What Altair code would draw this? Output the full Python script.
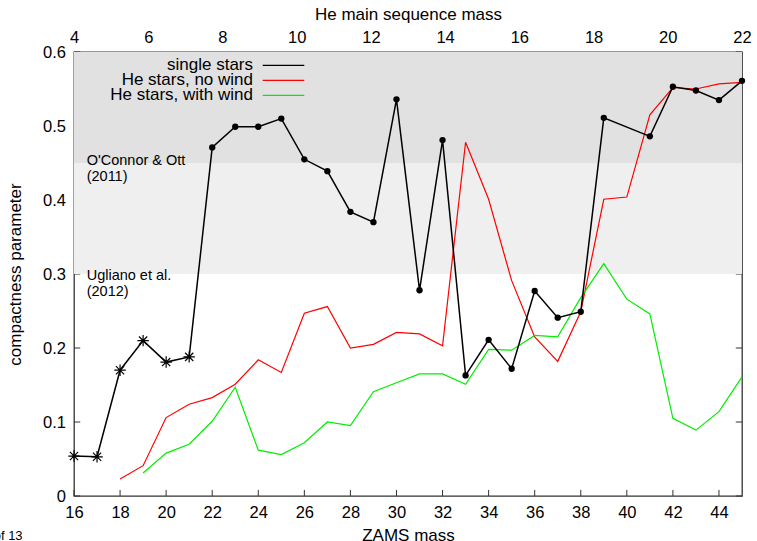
import altair as alt
import pandas as pd

# ---------------- data ----------------
# single stars (asterisk markers for the first six models, dots afterwards)
zams_single_star = [16, 17, 18, 19, 20, 21]
cp_single_star = [0.054, 0.053, 0.170, 0.210, 0.181, 0.188]
zams_single_dot = [22, 23, 24, 25, 26, 27, 28, 29, 30, 31, 32, 33, 34, 35, 36, 37, 38, 39,
                   41, 42, 43, 44, 45]
cp_single_dot = [0.471, 0.499, 0.499, 0.510, 0.455, 0.439, 0.384, 0.370, 0.536, 0.278,
                 0.481, 0.163, 0.211, 0.172, 0.277, 0.241, 0.249, 0.511,
                 0.486, 0.553, 0.548, 0.535, 0.561]

# He stars, no wind
zams_he_nowind = list(range(18, 46))
cp_he_nowind = [0.023, 0.041, 0.106, 0.124, 0.133, 0.151, 0.184, 0.167, 0.247, 0.256,
                0.200, 0.205, 0.221, 0.219, 0.203, 0.478, 0.401, 0.291, 0.215, 0.182,
                0.249, 0.401, 0.404, 0.515, 0.552, 0.550, 0.557, 0.559]

# He stars, with wind
zams_he_wind = list(range(19, 46))
cp_he_wind = [0.031, 0.058, 0.070, 0.101, 0.147, 0.062, 0.056, 0.072, 0.100, 0.095,
              0.141, 0.153, 0.165, 0.165, 0.151, 0.198, 0.197, 0.217, 0.215, 0.268,
              0.314, 0.266, 0.246, 0.105, 0.089, 0.114, 0.161]

# axes
zams_ticks = list(range(16, 46, 2))
cp_ticks = [0.0, 0.1, 0.2, 0.3, 0.4, 0.5, 0.6]
he_ticks = list(range(4, 23, 2))

# shaded regions
band_lo = [0.45, 0.30]
band_hi = [0.60, 0.45]
band_colors = ["#e1e1e1", "#efefef"]
band_labels = ["O'Connor & Ott\n(2011)", "Ugliano et al.\n(2012)"]

legend_labels = ["single stars", "He stars, no wind", "He stars, with wind"]
legend_colors = ["#000000", "#ff0000", "#00ee00"]

# ---------------- chart ----------------
FONT = "Liberation Sans"
XMIN, XMAX = 16, 45
YMIN, YMAX = 0.0, 0.6

xs = alt.Scale(domain=[XMIN, XMAX], nice=False, zero=False)
ys = alt.Scale(domain=[YMIN, YMAX], nice=False, zero=False)

xaxis = alt.Axis(values=zams_ticks, title="ZAMS mass", grid=False, domain=False,
                 ticks=False, tickSize=0, labelFontSize=16.5, labelPadding=21.3,
                 labelBaseline="alphabetic", labelColor="#000", titleFontSize=17,
                 titleFontWeight="normal", titleColor="#000", titleX=334, titleY=44.5,
                 titleBaseline="alphabetic", titleAlign="center", labelFlush=False)
yaxis = alt.Axis(values=cp_ticks, format=".1~f", title="compactness parameter",
                 grid=False, domain=False, ticks=False, tickSize=0, labelFontSize=16.5,
                 labelPadding=8.5, labelColor="#000", titleFontSize=17,
                 titleFontWeight="normal", titleColor="#000", titleX=-54, titleY=222,
                 titleAngle=270, titleBaseline="alphabetic", titleAlign="center",
                 labelFlush=False)

X = alt.X("zams:Q", scale=xs, axis=xaxis)
Y = alt.Y("cp:Q", scale=ys, axis=yaxis)

# inward ticks (drawn first so the shaded bands cover them)
df_bt = pd.DataFrame({"zams": zams_ticks, "cp": [YMIN] * len(zams_ticks),
                      "cp2": [YMIN + 0.0082] * len(zams_ticks)})
bottom_ticks = alt.Chart(df_bt).mark_rule(color="#333", strokeWidth=1).encode(
    x=X, y=Y, y2="cp2:Q")
df_lt = pd.DataFrame({"zams": [XMIN] * len(cp_ticks), "zams2": [XMIN + 0.27] * len(cp_ticks),
                      "cp": cp_ticks})
left_ticks = alt.Chart(df_lt).mark_rule(color="#333", strokeWidth=1).encode(
    x=X, x2="zams2:Q", y=Y)
df_rt = pd.DataFrame({"zams": [XMAX - 0.27] * len(cp_ticks), "zams2": [XMAX] * len(cp_ticks),
                      "cp": cp_ticks})
right_ticks = alt.Chart(df_rt).mark_rule(color="#333", strokeWidth=1).encode(
    x=X, x2="zams2:Q", y=Y)

df_band = pd.DataFrame({"zams": [XMIN, XMIN], "zams2": [XMAX, XMAX],
                        "cp": band_lo, "cp2": band_hi, "col": band_colors})
bands = alt.Chart(df_band).mark_rect().encode(
    x=X, x2="zams2:Q", y=Y, y2="cp2:Q",
    color=alt.Color("col:N", scale=None))

df_lab = pd.DataFrame({"zams": [16.55, 16.55], "cp": [0.447, 0.2915], "label": band_labels})
band_text = alt.Chart(df_lab).mark_text(
    align="left", baseline="alphabetic", font=FONT, fontSize=14.5, lineBreak="\n",
    lineHeight=16, color="#000").encode(x=X, y=Y, text="label:N")

df_red = pd.DataFrame({"zams": zams_he_nowind, "cp": cp_he_nowind})
red = alt.Chart(df_red).mark_line(color="#ff0000", strokeWidth=1.2).encode(x=X, y=Y)

df_green = pd.DataFrame({"zams": zams_he_wind, "cp": cp_he_wind})
green = alt.Chart(df_green).mark_line(color="#00ee00", strokeWidth=1.2).encode(x=X, y=Y)

df_single = pd.DataFrame({"zams": zams_single_star + zams_single_dot,
                          "cp": cp_single_star + cp_single_dot})
black = alt.Chart(df_single).mark_line(color="#000", strokeWidth=1.5).encode(x=X, y=Y)

df_dot = pd.DataFrame({"zams": zams_single_dot, "cp": cp_single_dot})
dots = alt.Chart(df_dot).mark_point(filled=True, color="#000", size=40, opacity=1,
                                    shape="circle").encode(x=X, y=Y)

ASTERISK = "M-1,0L1,0M0,-1L0,1M-0.72,-0.72L0.72,0.72M-0.72,0.72L0.72,-0.72"
df_star = pd.DataFrame({"zams": zams_single_star, "cp": cp_single_star})
stars = alt.Chart(df_star).mark_point(filled=False, color="#000", size=130, opacity=1,
                                      strokeWidth=1.2, shape=ASTERISK).encode(x=X, y=Y)

# legend (labels left of the line samples, as in the original)
legend_layers = []
for i, (lab, col) in enumerate(zip(legend_labels, legend_colors)):
    ty = 18.3 + 15 * i
    ly = 13.3 + 15 * i
    legend_layers.append(
        alt.Chart(pd.DataFrame({"a": [0]})).mark_text(
            align="right", baseline="alphabetic", font=FONT, fontSize=17, color="#000"
        ).encode(x=alt.value(179), y=alt.value(ty), text=alt.value(lab)))
    legend_layers.append(
        alt.Chart(pd.DataFrame({"a": [0]})).mark_rule(color=col, strokeWidth=1.3).encode(
            x=alt.value(188.7), x2=alt.value(230.3), y=alt.value(ly)))

footer = alt.Chart(pd.DataFrame({"a": [0]})).mark_text(
    align="right", baseline="alphabetic", font=FONT, fontSize=13, color="#000"
).encode(x=alt.value(-51.4), y=alt.value(487.5), text=alt.value("of 13"))

main = alt.layer(bottom_ticks, left_ticks, right_ticks, bands, band_text,
                 red, green, black, dots, stars, *legend_layers, footer)

top = alt.Chart(pd.DataFrame({"he": he_ticks})).mark_rule(opacity=0).encode(
    x=alt.X("he:Q", scale=alt.Scale(domain=[4, 22], nice=False, zero=False),
            axis=alt.Axis(orient="top", values=he_ticks, title="He main sequence mass",
                          grid=False, domain=False, ticks=False, tickSize=0,
                          labelFontSize=16.5, labelPadding=9.3, labelBaseline="alphabetic",
                          labelColor="#000", titleFontSize=17, titleFontWeight="normal",
                          titleColor="#000", titleX=334, titleY=-32.5,
                          titleBaseline="alphabetic", titleAlign="center",
                          labelFlush=False)))

chart = alt.layer(main, top).resolve_scale(x="independent").properties(
    width=668, height=444,
    padding={"left": 74, "top": 52, "right": 15, "bottom": 45},
    autosize=alt.AutoSizeParams(type="none"),
    background="white",
).configure_view(stroke="#333", strokeWidth=1.3).configure_axis(
    labelFont=FONT, titleFont=FONT
)

chart.save("out.html", embed_options={"renderer": "svg", "actions": False})
